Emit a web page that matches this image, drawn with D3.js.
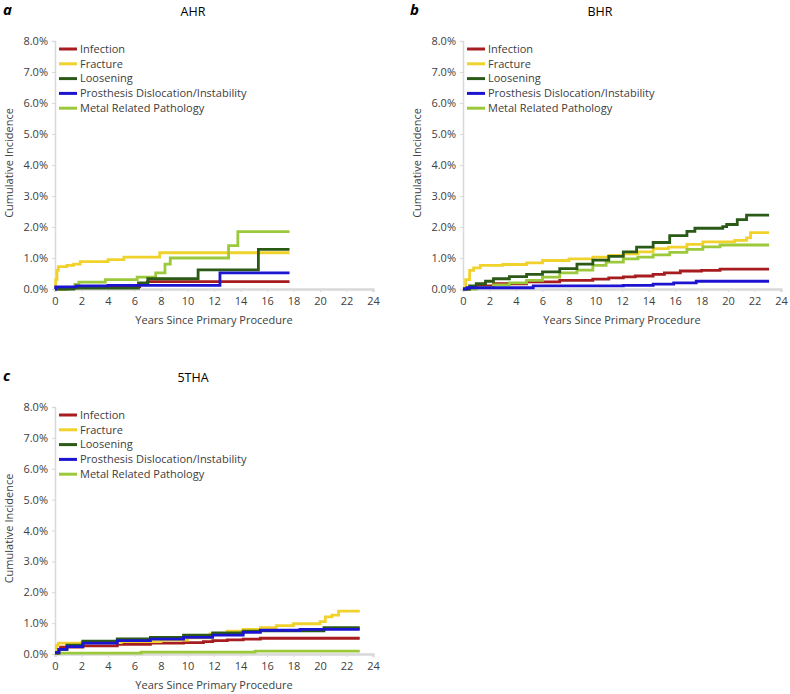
<!DOCTYPE html>
<html>
<head>
<meta charset="utf-8">
<script src="https://cdn.jsdelivr.net/npm/d3@7"></script>
<style>
  body { margin: 0; background: #fff; }
  svg { display: block; }
  text { font-family: "Open Sans", "Noto Sans", sans-serif; fill: #404040; }
</style>
</head>
<body>
<svg width="790" height="694"></svg>
<script>
// series names and colours (legend order)
var seriesNames = ["Infection", "Fracture", "Loosening", "Prosthesis Dislocation/Instability", "Metal Related Pathology"];
var seriesColors = ["#a61c1f", "#f1d22c", "#2b5a17", "#1c14d0", "#9bc93b"];
var drawOrder = [0, 1, 4, 2, 3];

var xTicks = [0, 2, 4, 6, 8, 10, 12, 14, 16, 18, 20, 22, 24];
var yTicks = [0, 1, 2, 3, 4, 5, 6, 7, 8];

// AHR  [years, cumulative incidence %]
var ahrInfection  = [[0,0],[0.8,0.02],[1.5,0.08],[6.4,0.15],[7.0,0.24],[17.7,0.24]];
var ahrFracture   = [[0,0],[0.05,0.3],[0.15,0.6],[0.25,0.72],[0.9,0.76],[1.4,0.8],[1.9,0.88],[4.0,0.95],[5.2,1.03],[7.9,1.17],[17.7,1.17]];
var ahrLoosening  = [[0,0],[1.4,0.03],[6.3,0.2],[7.0,0.33],[10.8,0.62],[15.35,1.28],[17.7,1.28]];
var ahrProsthesis = [[0,0],[0.05,0.07],[1.6,0.1],[4.0,0.12],[12.45,0.52],[17.7,0.52]];
var ahrMetal      = [[0,0],[1.0,0.03],[1.5,0.15],[1.8,0.22],[3.8,0.3],[6.2,0.38],[7.6,0.52],[8.3,0.8],[8.7,1.0],[13.1,1.4],[13.8,1.85],[17.7,1.85]];

// BHR
var bhrInfection  = [[0,0],[0.5,0.05],[1.0,0.1],[2.3,0.17],[4.8,0.23],[7.3,0.28],[9.8,0.32],[11,0.36],[12.1,0.39],[13,0.42],[14.35,0.47],[15.2,0.52],[16.4,0.58],[18,0.6],[19.4,0.64],[23.1,0.64]];
var bhrFracture   = [[0,0],[0.2,0.3],[0.5,0.6],[0.8,0.68],[1.3,0.76],[3,0.79],[4.8,0.84],[6.0,0.92],[8,0.97],[9.8,1.03],[11,1.08],[12.1,1.13],[13.2,1.2],[14.35,1.3],[15.5,1.35],[16.9,1.44],[18.1,1.52],[20.5,1.57],[21.4,1.65],[21.7,1.82],[23.1,1.82]];
var bhrLoosening  = [[0,0],[0.5,0.1],[1.0,0.17],[1.7,0.25],[2.3,0.33],[3.5,0.4],[4.8,0.47],[6.0,0.55],[7.3,0.66],[8.6,0.8],[9.8,0.93],[11,1.05],[12.1,1.2],[13.1,1.35],[14.35,1.5],[15.6,1.72],[16.9,1.86],[17.5,1.96],[19.6,2.01],[19.9,2.08],[20.7,2.24],[21.4,2.38],[23.1,2.38]];
var bhrProsthesis = [[0,0],[0.3,0.04],[5.3,0.1],[12.1,0.12],[14.35,0.16],[15.9,0.2],[17.6,0.25],[23.1,0.25]];
var bhrMetal      = [[0,0],[1.0,0.05],[2.3,0.13],[3.5,0.2],[4.8,0.28],[6.0,0.38],[7.3,0.52],[8.6,0.61],[9.8,0.76],[10.8,0.87],[12.1,0.97],[13.2,1.03],[14.35,1.1],[15.6,1.18],[16.9,1.28],[18.1,1.36],[19.4,1.42],[23.1,1.42]];

// 5THA
var thaInfection  = [[0,0.02],[0.2,0.15],[0.4,0.22],[2.1,0.26],[4.7,0.31],[7.2,0.35],[9.7,0.37],[11.2,0.4],[11.9,0.43],[13,0.46],[14.2,0.48],[15.5,0.51],[23,0.51]];
var thaFracture   = [[0,0.1],[0.1,0.28],[0.25,0.35],[2,0.37],[5,0.4],[8,0.45],[10,0.52],[11.7,0.65],[13,0.74],[14.2,0.8],[15.5,0.85],[16.7,0.92],[18,0.98],[20,1.05],[20.4,1.2],[20.9,1.26],[21.4,1.39],[23,1.39]];
var thaLoosening  = [[0,0.03],[0.3,0.15],[0.9,0.29],[2.1,0.42],[4.7,0.49],[7.2,0.54],[9.7,0.61],[11.9,0.68],[14.2,0.74],[15.5,0.75],[20.3,0.85],[23,0.85]];
var thaProsthesis = [[0,0.05],[0.3,0.15],[0.9,0.24],[2.1,0.35],[4.7,0.43],[7.2,0.48],[9.7,0.54],[11.9,0.61],[14.2,0.7],[15.5,0.77],[18.5,0.8],[23,0.8]];
var thaMetal      = [[0,0.03],[6.5,0.06],[15.1,0.09],[23,0.09]];

var svg = d3.select("svg");

var panels = [
  { label: "a", title: "AHR", left: 55, right: 373, top: 41, bottom: 289, titleX: 193, labelX: 3,
    series: [ahrInfection, ahrFracture, ahrLoosening, ahrProsthesis, ahrMetal] },
  { label: "b", title: "BHR", left: 463, right: 781, top: 41, bottom: 289, titleX: 600, labelX: 410,
    series: [bhrInfection, bhrFracture, bhrLoosening, bhrProsthesis, bhrMetal] },
  { label: "c", title: "5THA", left: 55, right: 373, top: 407, bottom: 654, titleX: 193, labelX: 3,
    series: [thaInfection, thaFracture, thaLoosening, thaProsthesis, thaMetal] }
];

panels.forEach(drawPanel);

function drawPanel(p)
{
    var x = d3.scaleLinear().domain([0, 24]).range([p.left, p.right]);
    var y = d3.scaleLinear().domain([0, 8]).range([p.bottom, p.top]);
    var g = svg.append("g");

    // panel letter and title
    g.append("text")
        .attr("x", p.labelX).attr("y", p.top - 26)
        .style("font-size", "15px").style("font-weight", "bold").style("font-style", "italic")
        .style("fill", "#000")
        .text(p.label);
    g.append("text")
        .attr("x", p.titleX).attr("y", p.top - 25)
        .attr("text-anchor", "middle")
        .style("font-size", "12.5px")
        .style("fill", "#000")
        .text(p.title);

    // y axis
    var yAxis = g.append("g")
        .attr("transform", "translate(" + p.left + ",0)")
        .call(d3.axisLeft(y).tickValues(yTicks).tickSize(3).tickPadding(4)
            .tickFormat(function(d) { return d3.format(".1f")(d) + "%"; }));
    yAxis.select(".domain").attr("stroke", "#d9d9d9").attr("stroke-width", 1.5);
    yAxis.selectAll(".tick line").attr("stroke", "#d9d9d9");
    yAxis.selectAll(".tick text").style("font-size", "11px").style("font-family", null).attr("fill", null);

    // x axis
    var xAxis = g.append("g")
        .attr("transform", "translate(0," + p.bottom + ")")
        .call(d3.axisBottom(x).tickValues(xTicks).tickSize(3).tickPadding(5));
    xAxis.select(".domain").attr("stroke", "#d9d9d9").attr("stroke-width", 2.5);
    xAxis.selectAll(".tick line").attr("stroke", "#d9d9d9");
    xAxis.selectAll(".tick text").style("font-size", "11px").style("font-family", null).attr("fill", null);

    // axis titles
    g.append("text")
        .attr("x", (p.left + p.right) / 2).attr("y", p.bottom + 35)
        .attr("text-anchor", "middle")
        .style("font-size", "11px")
        .text("Years Since Primary Procedure");
    g.append("text")
        .attr("transform", "translate(" + (p.left - 42) + "," + ((p.top + p.bottom) / 2 - 2) + ") rotate(-90)")
        .attr("text-anchor", "middle")
        .style("font-size", "11px")
        .text("Cumulative Incidence");

    // step curves
    var line = d3.line()
        .x(function(d) { return x(d[0]); })
        .y(function(d) { return y(d[1]); })
        .curve(d3.curveStepAfter);

    drawOrder.forEach(function(i)
    {
        g.append("path")
            .datum(p.series[i])
            .attr("fill", "none")
            .attr("stroke", seriesColors[i])
            .attr("stroke-width", 2.8)
            .attr("d", line);
    });

    // legend
    var legend = g.append("g").attr("transform", "translate(" + (p.left + 4) + "," + (p.top + 8) + ")");
    seriesNames.forEach(function(name, i)
    {
        var row = legend.append("g").attr("transform", "translate(0," + (i * 14.8) + ")");
        row.append("line")
            .attr("x1", 0).attr("x2", 18).attr("y1", 0).attr("y2", 0)
            .attr("stroke", seriesColors[i]).attr("stroke-width", 3);
        row.append("text")
            .attr("x", 21).attr("y", 0).attr("dy", "0.35em")
            .style("font-size", "11px")
            .text(name);
    });
}
</script>
</body>
</html>
